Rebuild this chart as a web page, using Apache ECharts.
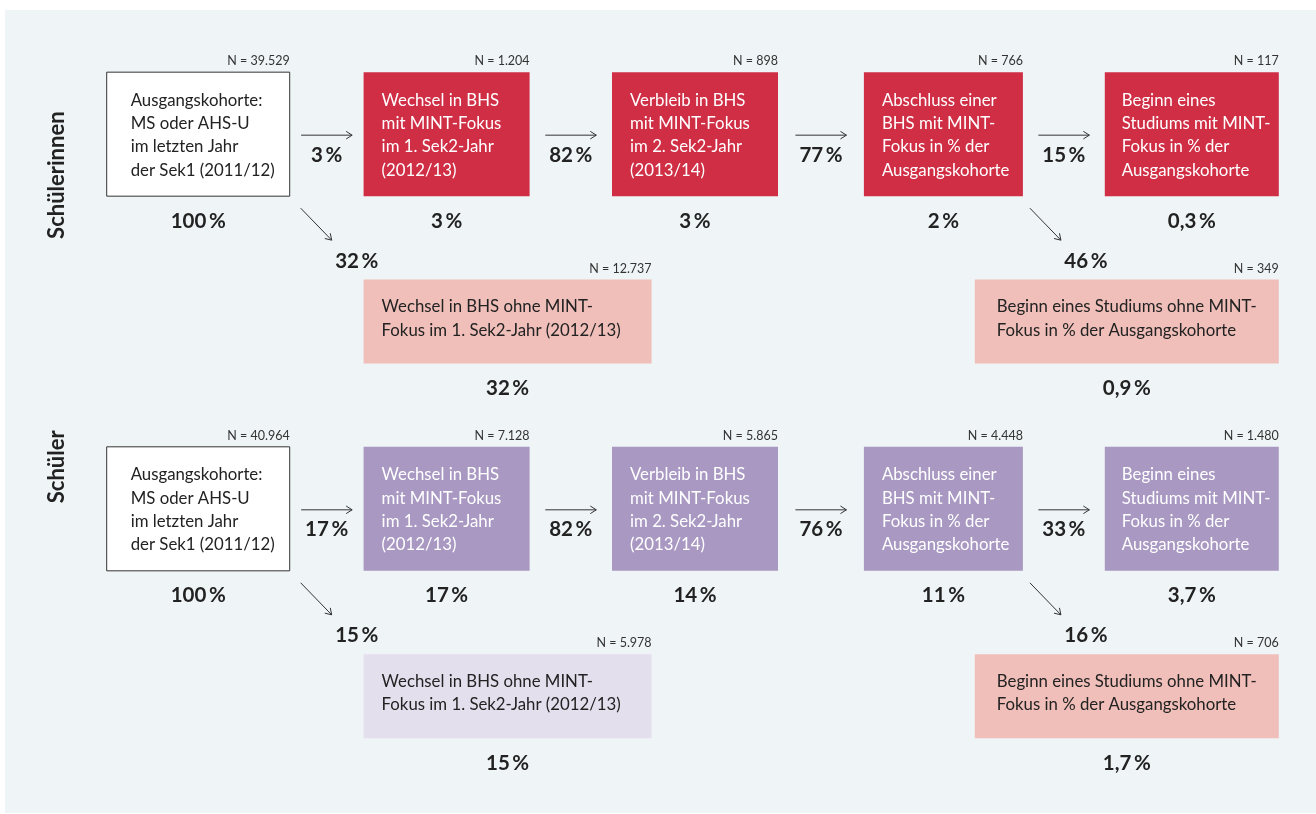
<!DOCTYPE html>
<html>
<head>
<meta charset="utf-8">
<script src="https://cdn.jsdelivr.net/npm/echarts@6/dist/echarts.min.js"></script>
<style>
html,body{margin:0;padding:0;background:#ffffff;}
#chart{width:1316px;height:814px;}
</style>
</head>
<body>
<div id="chart"></div>
<script>
// ---------- DATA ----------
const stages = ['Ausgangskohorte', 'Wechsel MINT', 'Verbleib MINT', 'Abschluss MINT', 'Studium MINT'];
const rows = ['Schülerinnen', 'Schülerinnen ohne MINT', 'Schüler', 'Schüler ohne MINT'];
const groups = ['Schülerinnen', 'Schüler'];
const stageTexts = [
  'Ausgangskohorte:\nMS oder AHS-U\nim letzten Jahr\nder Sek1 (2011/12)',
  'Wechsel in BHS\nmit MINT-Fokus\nim 1. Sek2-Jahr\n(2012/13)',
  'Verbleib in BHS\nmit MINT-Fokus\nim 2. Sek2-Jahr\n(2013/14)',
  'Abschluss einer\nBHS mit MINT-\nFokus in % der\nAusgangskohorte',
  'Beginn eines\nStudiums mit MINT-\nFokus in % der\nAusgangskohorte'
];
const otherTexts = [
  'Wechsel in BHS ohne MINT-\nFokus im 1. Sek2-Jahr (2012/13)',
  'Beginn eines Studiums ohne MINT-\nFokus in % der Ausgangskohorte'
];
const otherStages = [1, 4];

const femaleN = ['39.529', '1.204', '898', '766', '117'];
const femaleShare = ['100\u2009%', '3\u2009%', '3\u2009%', '2\u2009%', '0,3\u2009%'];
const femaleStep = ['3\u2009%', '82\u2009%', '77\u2009%', '15\u2009%'];
const femaleBranch = ['32\u2009%', '46\u2009%'];
const femaleOtherN = ['12.737', '349'];
const femaleOtherShare = ['32\u2009%', '0,9\u2009%'];

const maleN = ['40.964', '7.128', '5.865', '4.448', '1.480'];
const maleShare = ['100\u2009%', '17\u2009%', '14\u2009%', '11\u2009%', '3,7\u2009%'];
const maleStep = ['17\u2009%', '82\u2009%', '76\u2009%', '33\u2009%'];
const maleBranch = ['15\u2009%', '16\u2009%'];
const maleOtherN = ['5.978', '706'];
const maleOtherShare = ['15\u2009%', '1,7\u2009%'];

// ---------- STYLE / LAYOUT ----------
const FONT = 'Lato, "Noto Sans", sans-serif';
const MAIN_W = [183, 166, 166, 159, 174];
const MAIN_H = 124;
const MAIN_PAD = [24, 18, 18, 18, 17];
const OTHER_W = [288, 304];
const OTHER_H = 84;
const OTHER_PAD = [18, 22];
const BRANCH_DX = [11, 7];
const GROUP_DY = [41, -42];
const BOX_FONT = 16.8;
const groupStyle = [
  { main: '#cf2e45', other: ['#f0bfb9', '#f0bfb9'] },
  { main: '#a898c2', other: ['#e4dfed', '#f0bfb9'] }
];
const DARK = '#222222';

const groupData = [
  { N: femaleN, share: femaleShare, step: femaleStep, branch: femaleBranch, otherN: femaleOtherN, otherShare: femaleOtherShare },
  { N: maleN, share: maleShare, step: maleStep, branch: maleBranch, otherN: maleOtherN, otherShare: maleOtherShare }
];

// build items
const items = [];
groups.forEach((g, gi) => {
  const row = gi * 2;
  const d = groupData[gi];
  items.push({ kind: 'group', g: gi, stage: 0, row: row, text: g });
  stages.forEach((s, si) => {
    items.push({ kind: 'main', g: gi, stage: si, row: row, text: stageTexts[si], n: d.N[si], share: d.share[si] });
  });
  d.step.forEach((p, si) => {
    items.push({ kind: 'step', g: gi, stage: si, row: row, label: p });
  });
  d.branch.forEach((p, bi) => {
    const from = bi === 0 ? 0 : 3;
    items.push({ kind: 'branch', g: gi, b: bi, stage: from, row: row, label: p });
    items.push({ kind: 'other', g: gi, b: bi, stage: otherStages[bi], row: row + 1, text: otherTexts[bi], n: d.otherN[bi], share: d.otherShare[bi] });
  });
});

function arrow(x1, y1, x2, y2) {
  const dx = x2 - x1, dy = y2 - y1;
  const len = Math.sqrt(dx * dx + dy * dy);
  const ux = dx / len, uy = dy / len;
  const px = -uy, py = ux;
  const back = 6, half = 3.8;
  const st = { stroke: '#333333', lineWidth: 1, fill: null };
  return [
    { type: 'line', shape: { x1: x1, y1: y1, x2: x2, y2: y2 }, style: st },
    { type: 'polyline', shape: { points: [[x2 - back * ux + half * px, y2 - back * uy + half * py], [x2, y2], [x2 - back * ux - half * px, y2 - back * uy - half * py]] }, style: st }
  ];
}

function pctText(x, y, t) {
  return { type: 'text', style: { text: t, x: x, y: y, align: 'center', verticalAlign: 'middle', fill: DARK, fontFamily: FONT, fontSize: 20.5, fontWeight: 'bold' } };
}
function nText(x, y, t) {
  return { type: 'text', style: { text: 'N = ' + t, x: x, y: y, align: 'right', verticalAlign: 'middle', fill: '#333333', fontFamily: FONT, fontSize: 12.5 } };
}

function renderItem(params, api) {
  const it = items[params.dataIndex];
  const c = api.coord([it.stage, it.row]);
  const children = [];
  if (it.kind === 'group') {
    const x = c[0] - 141, y = c[1] + GROUP_DY[it.g];
    children.push({ type: 'text', x: x, y: y, rotation: Math.PI / 2,
      style: { text: it.text, x: 0, y: 0, align: 'center', verticalAlign: 'middle', fill: DARK, fontFamily: FONT, fontSize: 22, fontWeight: 'bold' } });
  } else if (it.kind === 'main') {
    const w = MAIN_W[it.stage], h = MAIN_H;
    const x = c[0] - w / 2, y = c[1] - h / 2;
    const first = it.stage === 0;
    children.push({ type: 'rect', shape: { x: x, y: y, width: w, height: h },
      style: { fill: first ? '#ffffff' : groupStyle[it.g].main, stroke: first ? '#333333' : null, lineWidth: first ? 1 : 0 } });
    children.push({ type: 'text', style: { text: it.text, x: x + MAIN_PAD[it.stage], y: c[1] + 1, align: 'left', verticalAlign: 'middle',
      fill: first ? DARK : '#ffffff', fontFamily: FONT, fontSize: BOX_FONT, lineHeight: 23.3 } });
    children.push(nText(x + w, y - 11, it.n));
    children.push(pctText(c[0], y + h + 25, it.share));
  } else if (it.kind === 'other') {
    const w = OTHER_W[it.b], h = OTHER_H;
    const mw = MAIN_W[it.stage];
    const x = it.b === 0 ? c[0] - mw / 2 : c[0] + mw / 2 - w;
    const y = c[1] - h / 2;
    children.push({ type: 'rect', shape: { x: x, y: y, width: w, height: h }, style: { fill: groupStyle[it.g].other[it.b] } });
    children.push({ type: 'text', style: { text: it.text, x: x + OTHER_PAD[it.b], y: c[1] - 3, align: 'left', verticalAlign: 'middle',
      fill: DARK, fontFamily: FONT, fontSize: BOX_FONT, lineHeight: 23.3 } });
    children.push(nText(x + w, y - 11, it.n));
    children.push(pctText(x + w / 2, y + h + 25, it.share));
  } else if (it.kind === 'step') {
    const c2 = api.coord([it.stage + 1, it.row]);
    const right = c[0] + MAIN_W[it.stage] / 2;
    const left = c2[0] - MAIN_W[it.stage + 1] / 2;
    const mid = (right + left) / 2;
    const y = c[1] + 1;
    arrow(mid - 25.5, y, mid + 25.5, y).forEach(e => children.push(e));
    children.push(pctText(mid, y + 20, it.label));
  } else if (it.kind === 'branch') {
    const sx = c[0] + MAIN_W[it.stage] / 2 + BRANCH_DX[it.b];
    const sy = c[1] + MAIN_H / 2 + 12;
    const ex = sx + 31, ey = sy + 32;
    arrow(sx, sy, ex, ey).forEach(e => children.push(e));
    children.push(pctText(ex + 25, ey + 21, it.label));
  }
  return { type: 'group', children: children };
}

const chart = echarts.init(document.getElementById('chart'), null, { renderer: 'canvas' });
chart.setOption({
  backgroundColor: '#ffffff',
  animation: false,
  graphic: [{ type: 'rect', z: -10, shape: { x: 5, y: 10, width: 1311, height: 803 }, style: { fill: '#eff4f7' } }],
  grid: { left: 74, right: 0, top: 40.5, bottom: 24.2 },
  xAxis: { type: 'category', data: stages, show: false, boundaryGap: true },
  yAxis: { type: 'category', data: rows, inverse: true, show: false, boundaryGap: true },
  series: [{
    type: 'custom',
    renderItem: renderItem,
    data: items.map(it => [it.stage, it.row]),
    encode: { x: 0, y: 1 },
    clip: false,
    silent: true
  }]
});
</script>
</body>
</html>
